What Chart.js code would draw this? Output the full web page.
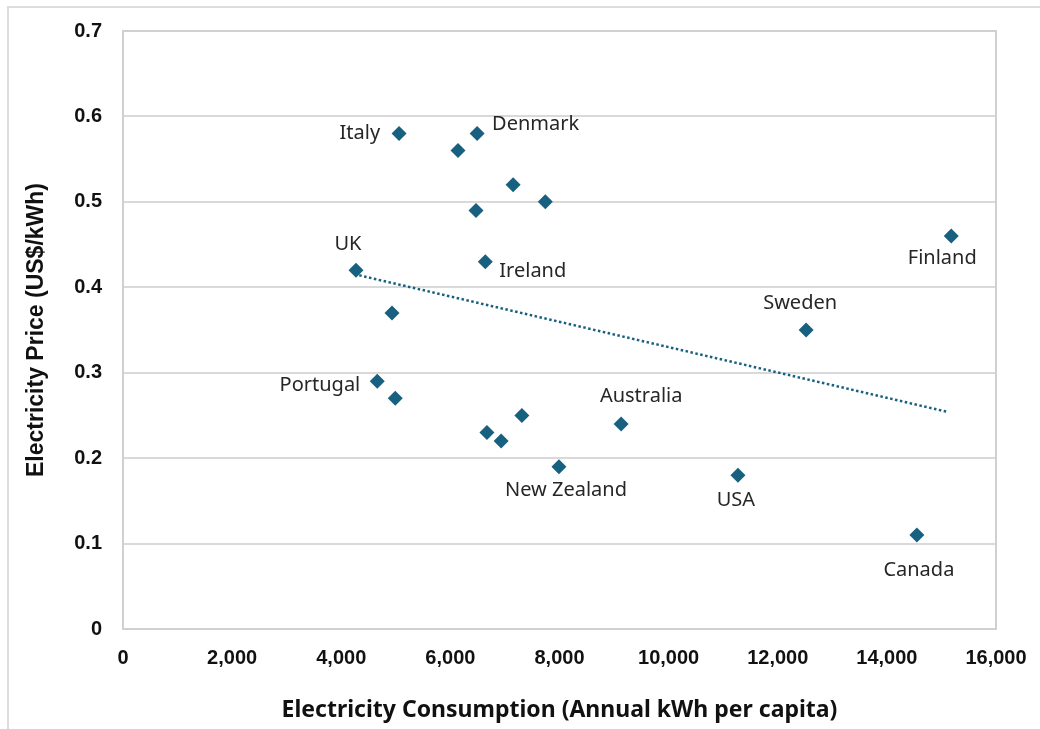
<!DOCTYPE html>
<html lang="en">
<head>
    <meta charset="UTF-8">
    <title>Electricity Price vs Consumption</title>
    <script src="https://cdn.jsdelivr.net/npm/chart.js"></script>
</head>
<style>
    body {
        margin: 0;
        background: #ffffff;
    }

    .frame {
        position: absolute;
        left: 7px;
        top: 6px;
        width: 1040px;
        height: 740px;
        border-top: 2px solid #dcdcdc;
        border-left: 2px solid #dcdcdc;
    }

    .chart-container {
        position: absolute;
        left: 0;
        top: 0;
        width: 1040px;
        height: 729px;
    }
</style>
<body>
    <div class="frame"></div>
    <div class="chart-container">
        <canvas id="grafico" width="1040" height="729"></canvas>
    </div>

    <script>
// datos
const paises = ['Italy', 'Denmark', '', '', '', '', 'Ireland', 'UK', '', 'Portugal', '', '', '', '', 'New Zealand', 'Australia', 'USA', 'Sweden', 'Finland', 'Canada'];
const consumo = [5060, 6490, 6140, 7150, 7740, 6470, 6640, 4270, 4930, 4660, 4990, 6670, 6930, 7310, 7990, 9130, 11270, 12520, 15180, 14550];
const precio = [0.58, 0.58, 0.56, 0.52, 0.50, 0.49, 0.43, 0.42, 0.37, 0.29, 0.27, 0.23, 0.22, 0.25, 0.19, 0.24, 0.18, 0.35, 0.46, 0.11];
const tendenciaX = [4330, 15120];
const tendenciaY = [0.414, 0.254];
const ticksX = [0, 2000, 4000, 6000, 8000, 10000, 12000, 14000, 16000];
const ticksY = [0, 0.1, 0.2, 0.3, 0.4, 0.5, 0.6, 0.7];

const azul = '#17607f';

// donde va cada etiqueta respecto al punto
const posEtiquetas = {
    'Italy': { dx: -19, dy: 0, align: 'right' },
    'Denmark': { dx: 15, dy: -9, align: 'left' },
    'UK': { dx: -8, dy: -26, align: 'center' },
    'Ireland': { dx: 14, dy: 10, align: 'left' },
    'Portugal': { dx: -17, dy: 4, align: 'right' },
    'Australia': { dx: 20, dy: -28, align: 'center' },
    'New Zealand': { dx: 7, dy: 24, align: 'center' },
    'USA': { dx: -2, dy: 25, align: 'center' },
    'Sweden': { dx: -6, dy: -27, align: 'center' },
    'Finland': { dx: -9, dy: 22, align: 'center' },
    'Canada': { dx: 2, dy: 35, align: 'center' }
};

const etiquetasPlugin = {
    id: 'etiquetas',
    afterDatasetsDraw(chart) {
        const ctx = chart.ctx;
        const sx = chart.scales.x;
        const sy = chart.scales.y;
        ctx.save();
        ctx.font = '20px "Noto Sans", sans-serif';
        ctx.fillStyle = '#262626';
        ctx.textBaseline = 'middle';
        paises.forEach((nombre, i) => {
            if (!nombre) return;
            const p = posEtiquetas[nombre];
            ctx.textAlign = p.align;
            ctx.fillText(nombre, sx.getPixelForValue(consumo[i]) + p.dx, sy.getPixelForValue(precio[i]) + p.dy);
        });
        ctx.restore();
    }
};

const bordePlugin = {
    id: 'borde',
    beforeDatasetsDraw(chart) {
        const a = chart.chartArea;
        const ctx = chart.ctx;
        ctx.save();
        ctx.strokeStyle = '#d0d0d0';
        ctx.lineWidth = 2;
        ctx.strokeRect(a.left, a.top, a.right - a.left, a.bottom - a.top);
        ctx.restore();
    }
};

const ctx = document.getElementById('grafico').getContext('2d');
new Chart(ctx, {
    type: 'scatter',
    data: {
        datasets: [{
            label: 'Paises',
            data: consumo.map((x, i) => ({ x: x, y: precio[i] })),
            backgroundColor: azul,
            borderColor: azul,
            pointStyle: 'rectRot',
            pointRadius: 7.5,
            pointHoverRadius: 7.5,
            borderWidth: 0
        }, {
            label: 'Tendencia',
            type: 'line',
            data: tendenciaX.map((x, i) => ({ x: x, y: tendenciaY[i] })),
            borderColor: azul,
            borderWidth: 2.5,
            borderDash: [2.5, 2.5],
            pointRadius: 0,
            fill: false
        }]
    },
    options: {
        responsive: false,
        animation: false,
        layout: {
            padding: { left: 0, top: 31, right: 44, bottom: 0 }
        },
        scales: {
            x: {
                type: 'linear',
                min: 0,
                max: 16000,
                afterBuildTicks: (axis) => { axis.ticks = ticksX.map(v => ({ value: v })); },
                afterFit: (axis) => {
                    axis.height = 100;
                    axis.paddingLeft = 0;
                    axis.paddingRight = 0;
                },
                grid: { display: false, drawTicks: false },
                border: { display: false },
                ticks: {
                    padding: 17,
                    maxRotation: 0,
                    autoSkip: false,
                    color: '#111111',
                    font: { family: '"Liberation Sans", Arial, sans-serif', size: 20, weight: 'bold' },
                    callback: (v) => v.toLocaleString('en-US')
                },
                title: {
                    display: true,
                    text: 'Electricity Consumption (Annual kWh per capita)',
                    color: '#111111',
                    font: { family: '"Noto Sans", sans-serif', size: 23, weight: 'bold' },
                    padding: { top: 0, bottom: 5 }
                }
            },
            y: {
                min: 0,
                max: 0.7,
                afterBuildTicks: (axis) => { axis.ticks = ticksY.map(v => ({ value: v })); },
                afterFit: (axis) => {
                    axis.width = 123;
                    axis.paddingTop = 0;
                    axis.paddingBottom = 0;
                },
                grid: { color: '#d9d9d9', lineWidth: 2, drawTicks: false },
                border: { display: false },
                ticks: {
                    padding: 21,
                    autoSkip: false,
                    color: '#111111',
                    font: { family: '"Liberation Sans", Arial, sans-serif', size: 20, weight: 'bold' },
                    callback: (v) => v === 0 ? '0' : v.toFixed(1)
                },
                title: {
                    display: true,
                    text: 'Electricity Price (US$/kWh)',
                    color: '#111111',
                    font: { family: '"Liberation Sans", Arial, sans-serif', size: 23, weight: 'bold' },
                    padding: { top: 23, bottom: 0 }
                }
            }
        },
        plugins: {
            legend: { display: false },
            tooltip: { enabled: false }
        }
    },
    plugins: [bordePlugin, etiquetasPlugin]
});
    </script>
</body>
</html>
